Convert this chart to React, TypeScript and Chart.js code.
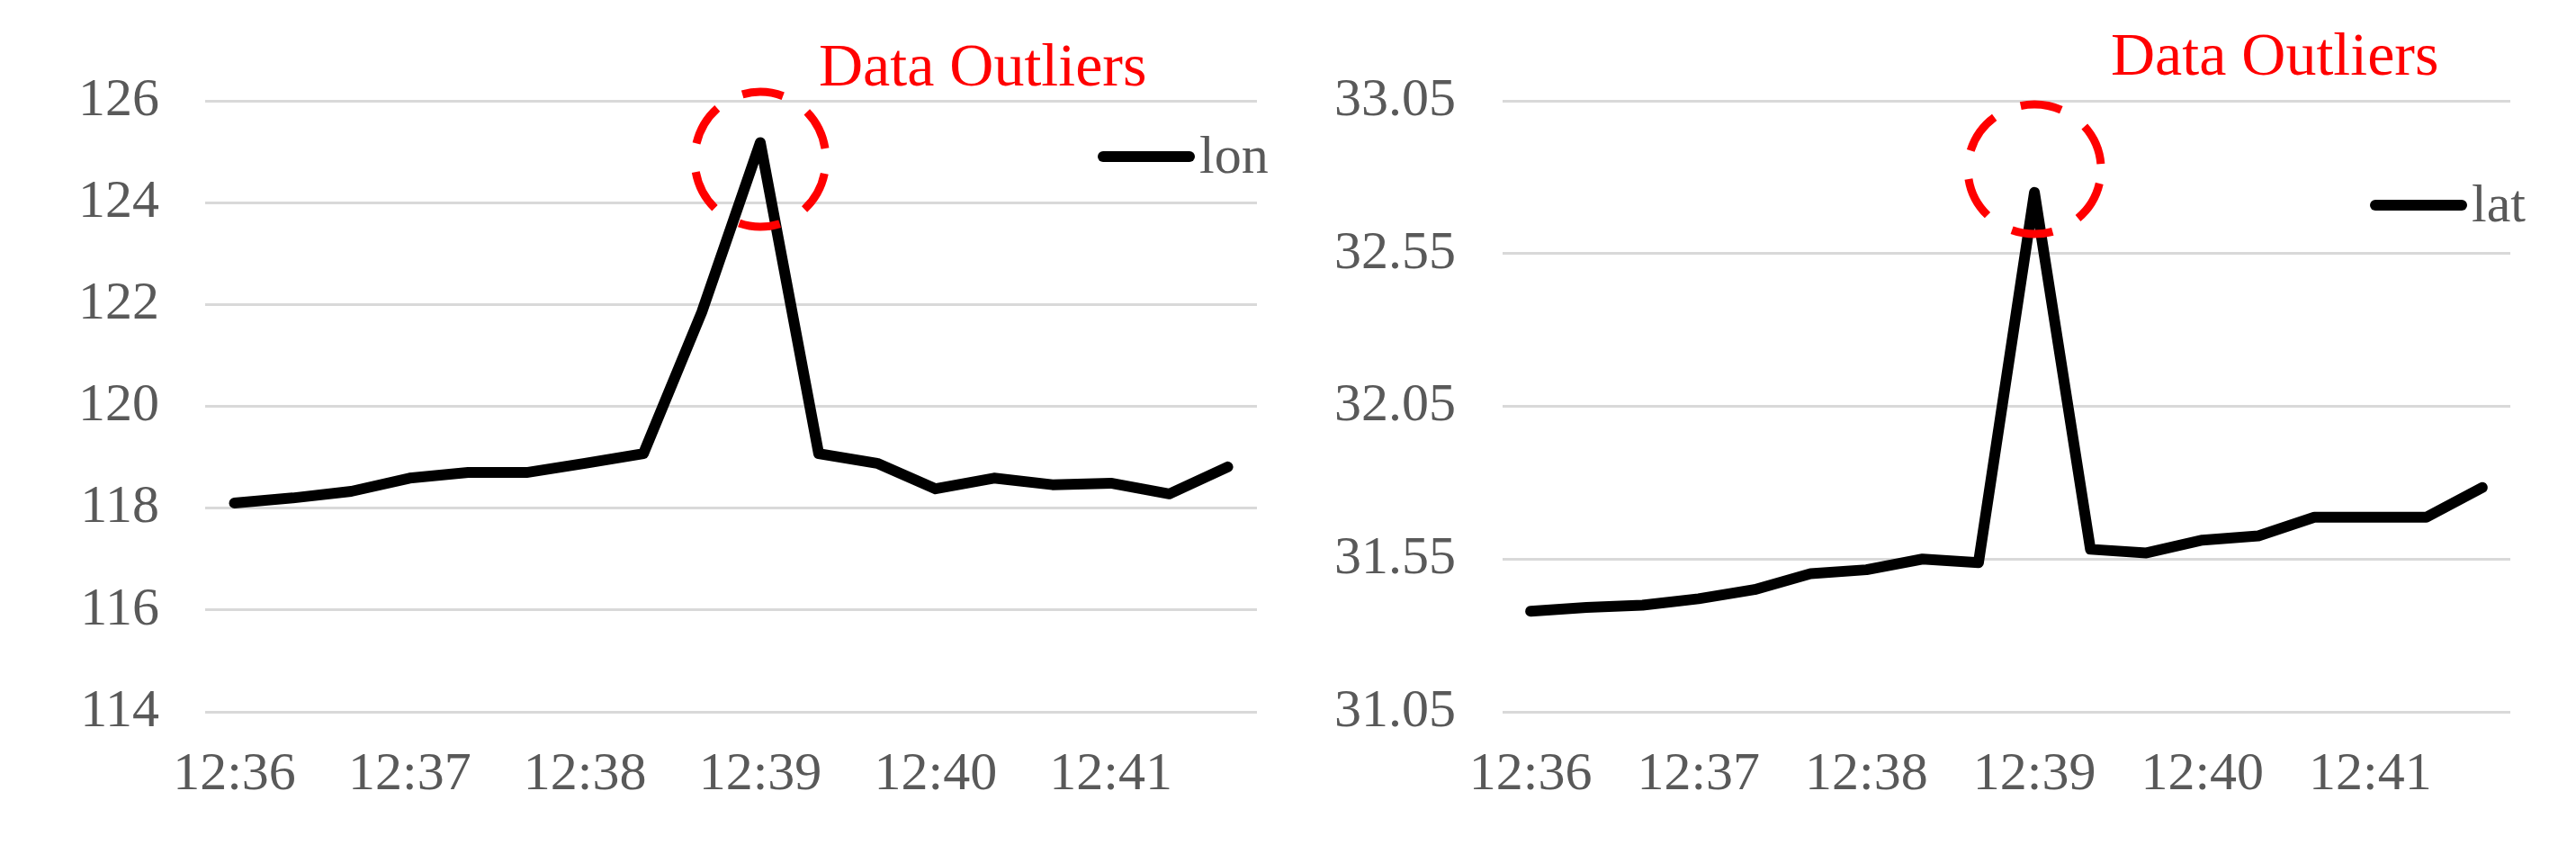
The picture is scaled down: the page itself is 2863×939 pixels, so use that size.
import React, { useEffect, useRef } from 'react';
import { Chart, registerables } from 'chart.js';

Chart.register(...registerables);

// ---- Data ----
const timeLabels = [
  '12:36:00', '12:36:20', '12:36:40', '12:37:00', '12:37:20', '12:37:40',
  '12:38:00', '12:38:20', '12:38:40', '12:39:00', '12:39:20', '12:39:40',
  '12:40:00', '12:40:20', '12:40:40', '12:41:00', '12:41:20', '12:41:40',
];
const lonValues = [
  118.1, 118.2, 118.33, 118.59, 118.7, 118.7, 118.88, 119.07, 121.85,
  125.18, 119.07, 118.88, 118.38, 118.59, 118.46, 118.49, 118.28, 118.81,
];
const latValues = [
  31.379, 31.392, 31.399, 31.42, 31.45, 31.502, 31.515, 31.55, 31.538,
  32.75, 31.582, 31.57, 31.612, 31.626, 31.687, 31.687, 31.687, 31.784,
];
const lonTicks = { min: 114, max: 126, step: 2, decimals: 0 };
const latTicks = { min: 31.05, max: 33.05, step: 0.5, decimals: 2 };
const outlierIndex = 9; // 12:39
const lonCircleValue = 124.85;
const latCircleValue = 32.826;
const annotationText = 'Data Outliers';

const W = 2863;
const H = 939;
const SERIF = "'Liberation Serif', 'Times New Roman', serif";
const GRAY = '#595959';

const outlierPlugin = {
  id: 'outlierMarks',
  afterDatasetsDraw(chart: any, _args: any, opts: any) {
    const { ctx } = chart;
    const x = chart.scales.x;
    const y = chart.scales.y;
    const cx = x.getPixelForValue(opts.index);
    const cy = y.getPixelForValue(opts.value);
    ctx.save();
    ctx.strokeStyle = '#ff0000';
    ctx.lineWidth = 9;
    ctx.lineCap = 'butt';
    ctx.setLineDash([46, 32]);
    ctx.lineDashOffset = 46 + 16;
    ctx.beginPath();
    ctx.ellipse(cx, cy, opts.rx, opts.ry, 0, 0, Math.PI * 2);
    ctx.stroke();
    ctx.restore();
  },
  afterDraw(chart: any, _args: any, opts: any) {
    const { ctx } = chart;
    ctx.save();
    // annotation text
    ctx.fillStyle = '#ff0000';
    ctx.font = `68px ${SERIF}`;
    ctx.textAlign = 'left';
    ctx.textBaseline = 'alphabetic';
    ctx.fillText(opts.text, opts.textX, opts.textY);
    // legend
    const ds = chart.data.datasets[0];
    ctx.strokeStyle = '#000000';
    ctx.lineWidth = 12;
    ctx.lineCap = 'round';
    ctx.beginPath();
    ctx.moveTo(opts.legendX2 - 102, opts.legendY);
    ctx.lineTo(opts.legendX2 - 6, opts.legendY);
    ctx.stroke();
    ctx.fillStyle = GRAY;
    ctx.font = `60px ${SERIF}`;
    ctx.fillText(ds.label, opts.legendX2 + 5, opts.legendY + 18);
    ctx.restore();
  },
};

function makeConfig(p: any) {
  return {
    type: 'line',
    data: {
      labels: timeLabels,
      datasets: [
        {
          label: p.label,
          data: p.values,
          borderColor: '#000000',
          backgroundColor: '#000000',
          borderWidth: 12,
          pointRadius: 0,
          pointHoverRadius: 0,
          tension: 0,
          borderJoinStyle: 'round',
          borderCapStyle: 'round',
          fill: false,
        },
      ],
    },
    options: {
      animation: false,
      responsive: false,
      events: [],
      layout: { padding: { top: 112, right: p.padRight, left: 0, bottom: 0 } },
      plugins: {
        legend: { display: false },
        tooltip: { enabled: false },
        outlierMarks: {
          index: outlierIndex,
          value: p.circleValue,
          rx: p.rx,
          ry: p.ry,
          text: annotationText,
          textX: p.textX,
          textY: p.textY,
          legendX2: p.legendX2,
          legendY: p.legendY,
        },
      },
      scales: {
        x: {
          type: 'category',
          offset: true,
          grid: { display: false, drawTicks: false },
          border: { display: false },
          ticks: {
            autoSkip: false,
            maxRotation: 0,
            minRotation: 0,
            padding: 34,
            color: GRAY,
            font: { family: SERIF, size: 60 },
            callback: (_v: any, i: number) => (i % 3 === 0 ? timeLabels[i].slice(0, 5) : ''),
          },
          afterFit: (s: any) => {
            s.height = 148;
          },
        },
        y: {
          min: p.ticks.min,
          max: p.ticks.max,
          grid: { color: '#d9d9d9', lineWidth: 3, drawTicks: false },
          border: { display: false },
          ticks: {
            stepSize: p.ticks.step,
            padding: p.yPad,
            color: GRAY,
            font: { family: SERIF, size: 60 },
            callback: (v: any) => Number(v).toFixed(p.ticks.decimals),
          },
          afterFit: (s: any) => {
            s.width = p.yWidth;
          },
        },
      },
    },
    plugins: [outlierPlugin],
  };
}

function ChartCanvas({ left, width, params }: { left: number; width: number; params: any }) {
  const ref = useRef<HTMLCanvasElement | null>(null);
  useEffect(() => {
    if (!ref.current) return;
    const chart = new Chart(ref.current, makeConfig(params) as any);
    return () => chart.destroy();
  }, []);
  return (
    <canvas
      ref={ref}
      width={width}
      height={H}
      style={{ position: 'absolute', left, top: 0, width, height: H }}
    />
  );
}

export default function App() {
  const lonParams = {
    label: 'lon',
    values: lonValues,
    ticks: lonTicks,
    yWidth: 228,
    yPad: 51,
    padRight: 34,
    circleValue: lonCircleValue,
    rx: 73,
    ry: 75,
    textX: 910,
    textY: 95,
    legendX2: 1328,
    legendY: 174,
  };
  const latParams = {
    label: 'lat',
    values: latValues,
    ticks: latTicks,
    yWidth: 239,
    yPad: 52,
    padRight: 73,
    circleValue: latCircleValue,
    rx: 74,
    ry: 72,
    textX: 915,
    textY: 83,
    legendX2: 1311,
    legendY: 228,
  };
  return (
    <div style={{ position: 'absolute', left: 0, top: 0, width: W, height: H, background: '#ffffff' }}>
      <ChartCanvas left={0} width={1431} params={lonParams} />
      <ChartCanvas left={1431} width={1432} params={latParams} />
    </div>
  );
}
